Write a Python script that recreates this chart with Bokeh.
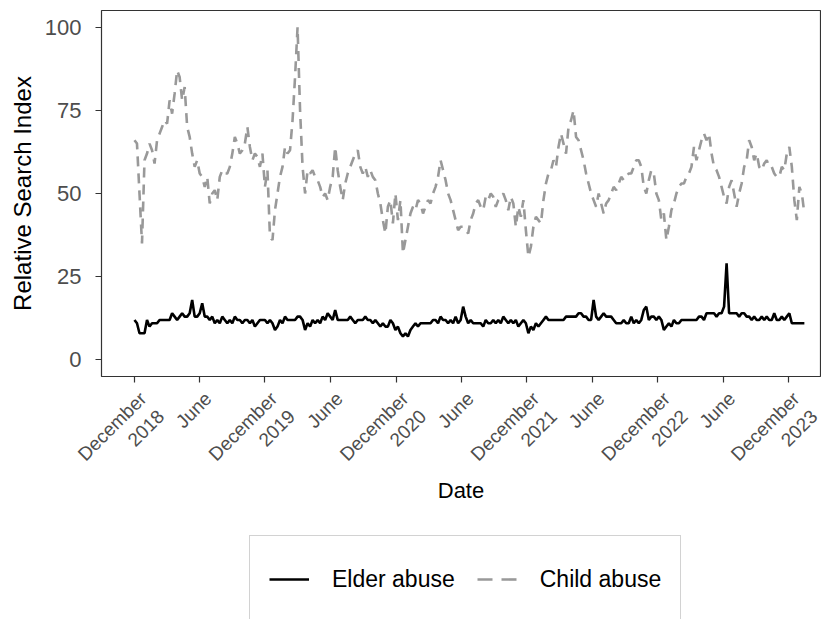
import numpy as np
import pandas as pd
from bokeh.plotting import figure
from bokeh.layouts import column
from bokeh.models import FixedTicker, Legend, LegendItem, Range1d, ColumnDataSource
from bokeh.embed import file_html
from bokeh.resources import INLINE

start_date = "2018-12-02"

child_abuse = [
    66, 65, 50, 35, 60, 62, 65, 63, 59, 66,
    68, 70, 72, 71, 78, 74, 80, 87, 85, 78,
    82, 70, 67, 62, 58, 60, 56, 55, 52, 55,
    47, 50, 51, 48, 55, 57, 56, 56, 58, 62,
    67, 65, 62, 63, 65, 70, 64, 60, 62, 61,
    58, 62, 52, 57, 37, 36, 45, 50, 55, 58,
    64, 62, 63, 72, 85, 100, 75, 58, 50, 57,
    56, 57, 55, 54, 52, 49, 50, 48, 52, 55,
    64, 57, 52, 48, 53, 56, 58, 60, 62, 63,
    58, 56, 58, 55, 57, 55, 54, 50, 47, 42,
    38, 46, 48, 41, 50, 42, 48, 32, 36, 40,
    44, 46, 45, 48, 47, 44, 46, 48, 47, 50,
    52, 55, 60, 57, 54, 50, 48, 45, 42, 39,
    40, 40, 39, 38, 42, 44, 47, 48, 46, 45,
    49, 48, 50, 49, 46, 48, 49, 50, 48, 45,
    49, 47, 40, 46, 43, 48, 39, 31, 34, 40,
    43, 42, 41, 48, 53, 56, 57, 60, 58, 64,
    68, 65, 62, 70, 72, 75, 67, 66, 63, 60,
    56, 53, 50, 48, 46, 50, 47, 44, 47, 48,
    50, 52, 51, 53, 55, 54, 55, 56, 56, 58,
    60, 60, 58, 52, 50, 54, 57, 56, 50, 48,
    42, 44, 36, 40, 45, 47, 50, 52, 53, 53,
    55, 56, 58, 64, 60, 63, 66, 68, 66, 68,
    62, 58, 57, 55, 52, 49, 47, 52, 54, 50,
    46, 50, 53, 58, 60, 66, 64, 60, 62, 58,
    57, 59, 60, 58, 58, 56, 55, 55, 58, 57,
    62, 64, 58, 48, 42, 52, 50, 44,
]

elder_abuse = [
    12, 11, 8, 8, 8, 12, 10, 11, 11, 11,
    12, 12, 12, 12, 12, 14, 13, 12, 13, 14,
    13, 13, 14, 18, 13, 13, 14, 17, 13, 13,
    12, 13, 11, 12, 11, 13, 12, 11, 12, 11,
    13, 12, 12, 11, 12, 12, 11, 12, 10, 11,
    12, 12, 12, 11, 12, 11, 9, 10, 12, 11,
    13, 12, 12, 12, 12, 13, 13, 12, 9, 11,
    10, 12, 11, 12, 11, 13, 12, 14, 13, 12,
    15, 12, 12, 12, 12, 12, 13, 12, 11, 12,
    12, 12, 13, 12, 12, 11, 12, 11, 10, 11,
    10, 10, 12, 11, 9, 10, 8, 7, 8, 7,
    9, 10, 11, 10, 11, 11, 11, 11, 11, 12,
    12, 11, 13, 12, 12, 11, 12, 11, 13, 11,
    12, 16, 13, 11, 12, 11, 11, 11, 11, 10,
    12, 11, 11, 12, 11, 12, 11, 13, 12, 11,
    12, 11, 12, 10, 11, 12, 11, 8, 10, 9,
    11, 10, 11, 12, 13, 12, 12, 12, 12, 12,
    12, 12, 13, 13, 13, 13, 13, 14, 14, 13,
    13, 12, 12, 18, 13, 12, 13, 14, 13, 13,
    13, 12, 11, 11, 11, 12, 11, 11, 13, 11,
    12, 11, 12, 15, 16, 12, 13, 13, 12, 13,
    12, 9, 10, 11, 10, 12, 11, 11, 12, 12,
    12, 12, 12, 12, 12, 13, 13, 12, 14, 14,
    14, 14, 13, 14, 14, 16, 29, 14, 14, 14,
    14, 13, 14, 14, 13, 13, 12, 13, 12, 12,
    13, 12, 13, 12, 12, 14, 12, 12, 13, 12,
    13, 14, 11, 11, 11, 11, 11, 11,
]

tick_dates = ["2018-12-01", "2019-06-01", "2019-12-01", "2020-06-01",
              "2020-12-01", "2021-06-01", "2021-12-01", "2022-06-01",
              "2022-12-01", "2023-06-01", "2023-12-01"]
tick_labels = ["December\n2018", "June", "December\n2019", "June",
               "December\n2020", "June", "December\n2021", "June",
               "December\n2022", "June", "December\n2023"]
y_ticks = [0, 25, 50, 75, 100]
series_names = ["Elder abuse", "Child abuse"]

dates = pd.date_range(start_date, periods=len(elder_abuse), freq="7D")
src = ColumnDataSource(dict(date=dates, elder=elder_abuse, child=child_abuse))

FONT = "Liberation Sans"

p = figure(width=821, height=533, x_axis_type="datetime",
           output_backend="svg", toolbar_location=None,
           x_range=Range1d(pd.Timestamp("2018-09-01"), pd.Timestamp("2024-02-28")),
           y_range=Range1d(-5, 105),
           min_border_left=101, min_border_right=1, min_border_top=10,
           min_border_bottom=157)
p.background_fill_color = "white"
p.border_fill_color = "white"
p.outline_line_color = "#333333"
p.outline_line_width = 1.2
p.xgrid.visible = False
p.ygrid.visible = False

p.line("date", "child", source=src, line_color="#999999",
       line_width=2.6, line_dash="10 7")
p.line("date", "elder", source=src, line_color="black", line_width=2.6)

tick_ms = [float(pd.Timestamp(d).value // 10**6) for d in tick_dates]
# blank leading lines put the first text line's top at the tick (top-right anchoring)
padded = ["\n" * (l.count("\n") + 1) + l for l in tick_labels]
p.xaxis.ticker = FixedTicker(ticks=tick_ms)
p.xaxis.major_label_overrides = {t: l for t, l in zip(tick_ms, padded)}
p.xaxis.major_label_orientation = np.pi / 4
p.yaxis.ticker = FixedTicker(ticks=y_ticks)

for ax in (p.xaxis, p.yaxis):
    ax.axis_line_color = None
    ax.major_tick_line_color = "#333333"
    ax.major_tick_line_width = 1.2
    ax.major_tick_out = 6
    ax.major_tick_in = 0
    ax.minor_tick_line_color = None
    ax.major_label_text_color = "#4D4D4D"
    ax.major_label_text_font = FONT
    ax.axis_label_text_font = FONT
    ax.axis_label_text_font_style = "normal"
    ax.axis_label_text_color = "black"

p.xaxis.major_label_text_font_size = "19px"
p.yaxis.major_label_text_font_size = "22px"
p.xaxis.axis_label_text_font_size = "22px"
p.yaxis.axis_label_text_font_size = "24px"
p.xaxis.axis_label = "Date"
p.yaxis.axis_label = "Relative Search Index"
p.yaxis.major_label_standoff = 14
p.xaxis.major_label_standoff = 4
p.yaxis.axis_label_standoff = 6
p.xaxis.axis_label_standoff = -42

# legend strip
lf = figure(width=821, height=86, output_backend="svg", toolbar_location=None,
            x_range=Range1d(0, 1), y_range=Range1d(0, 1),
            x_axis_location=None, y_axis_location=None,
            min_border_left=0, min_border_right=0, min_border_top=0,
            min_border_bottom=0)
lf.outline_line_color = None
lf.xgrid.visible = False
lf.ygrid.visible = False
# legend-key renderers, their points lie outside the visible range
key_x = [-5, -4]
key_y = [-5, -5]
k_elder = lf.line(key_x, key_y, line_color="black", line_width=2.6)
k_child = lf.line(key_x, key_y, line_color="#999999",
                  line_width=2.6, line_dash="15 9")

legend = Legend(items=[LegendItem(label=series_names[0], renderers=[k_elder]),
                       LegendItem(label=series_names[1], renderers=[k_child])],
                orientation="horizontal", location=(148, -4),
                glyph_width=40, glyph_height=48, label_standoff=23,
                spacing=22, padding=19, margin=0,
                border_line_color="#A6A6A6", border_line_width=1,
                background_fill_color="white", background_fill_alpha=1,
                label_text_font=FONT, label_text_font_size="23px",
                label_text_color="black")
lf.add_layout(legend, "center")

open("out.html", "w").write(file_html(column(p, lf, spacing=0), INLINE))
